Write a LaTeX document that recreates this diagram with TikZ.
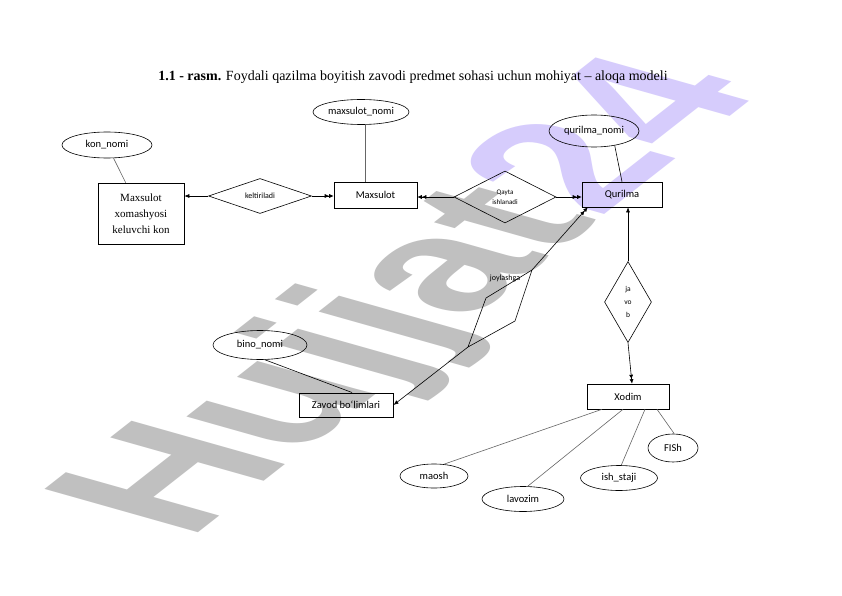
\documentclass[tikz,border=0pt]{standalone}
\usepackage{fontspec}
\setmainfont{Liberation Serif}
\newfontfamily\carl{Carlito}
\newfontfamily\wmfont{Liberation Sans}
\usetikzlibrary{shapes.geometric,arrows.meta}
\definecolor{wmgray}{RGB}{192,192,192}
\definecolor{wmlav}{RGB}{214,204,252}
\tikzset{
  ent/.style={draw, line width=0.6pt, inner sep=0pt, font=\carl\fontsize{10.5}{12}\selectfont},
  attr/.style={draw, ellipse, line width=0.6pt, inner sep=0pt, font=\carl\fontsize{10.5}{12}\selectfont},
  rel/.style={draw, diamond, line width=0.6pt, inner sep=0pt, align=center},
  link/.style={draw=black!60, line width=0.6pt},
  conn/.style={draw=black, line width=0.6pt},
  sgl/.style={conn, -{Latex[length=5pt,width=4pt]}},
  dbl/.style={conn, -{Latex[length=4.5pt,width=4pt]Latex[length=4.5pt,width=4pt]}}
}
\begin{document}
\begin{tikzpicture}[x=1pt,y=-1pt]
\useasboundingbox (0,0) rectangle (842,596);
\fill[white] (0,0) rectangle (842,596);
% watermark
\begin{scope}[shift={(188,541)}]
\node[cm={1.48,1.16,-2.23,0.63,(0,0)}, transform shape, anchor=base west, inner sep=0pt,
  font=\wmfont\bfseries\fontsize{100}{100}\selectfont] (wm) at (0,0)
  {\textcolor{wmgray}{Hujjat}\textcolor{wmlav}{24}};
\end{scope}
% title
\node[font=\fontsize{14}{16}\selectfont, inner sep=0pt] (title) at (413,77)
  {\textbf{1.1 - rasm.} Foydali qazilma boyitish zavodi predmet sohasi uchun mohiyat – aloqa modeli};
% entities
\node[ent, minimum width=86, minimum height=61, align=center, font=\fontsize{11}{16}\selectfont] (kon) at (141,213.5) {Maxsulot\\xomashyosi\\keluvchi kon};
\node[ent, minimum width=83, minimum height=26] (max) at (375.5,195) {Maxsulot};
\node[ent, minimum width=80, minimum height=25] (qur) at (622,194.5) {Qurilma};
\node[ent, minimum width=82, minimum height=25] (xod) at (628,396.5) {Xodim};
\node[ent, line width=1pt, minimum width=94, minimum height=24] (zav) at (346,405) {Zavod bo‘limlari};
% attributes
\node[attr, minimum width=90, minimum height=26] (konN) at (107,145) {kon\_nomi};
\node[attr, minimum width=96, minimum height=25] (maxN) at (361,112) {maxsulot\_nomi};
\node[attr, minimum width=90, minimum height=32] (qurN) at (594,131) {qurilma\_nomi};
\node[attr, minimum width=94, minimum height=29] (binoN) at (260,345) {bino\_nomi};
\node[attr, minimum width=68, minimum height=24] (maosh) at (434,476) {maosh};
\node[attr, minimum width=82, minimum height=25] (lav) at (523,499) {lavozim};
\node[attr, minimum width=77, minimum height=25] (ish) at (619,478) {ish\_staji};
\node[attr, minimum width=50, minimum height=28] (fish) at (673,448) {FISh};
% relationships
\node[rel, minimum width=103, minimum height=35, aspect=2.9, font=\carl\fontsize{8}{9}\selectfont] (kel) at (260,196) {keltiriladi};
\node[rel, minimum width=102, minimum height=52, aspect=2, font=\carl\fontsize{7}{10}\selectfont] (qay) at (505,197) {Qayta\\ishlanadi};
\node[rel, minimum width=47, minimum height=81, aspect=0.58, font=\carl\fontsize{7.5}{13}\selectfont] (jav) at (628,302) {ja\\vo\\b};
\coordinate (jA) at (532,270);
\coordinate (jB) at (486,298);
\coordinate (jC) at (468,347);
\coordinate (jD) at (515,321);
\draw[conn] (jA) -- (jB) -- (jC) -- (jD) -- cycle;
\node[font=\carl\fontsize{8}{9}\selectfont, inner sep=0pt] (joy) at (505,278) {joylashga};
% attribute links
\draw[link] (konN) -- (kon);
\draw[link] (maxN.-70) -- (maxN.-70 |- max.north);
\draw[conn] (qurN.-35) -- (qur.north);
\draw[conn] (binoN.-72) -- ([xshift=6pt]zav.north);
\draw[link] ([xshift=-26pt]xod.south) -- (maosh.50);
\draw[link] ([xshift=-5pt]xod.south) -- (lav.70);
\draw[link] ([xshift=17pt]xod.south) -- (ish.80);
\draw[link] ([xshift=29pt]xod.south) -- (fish.85);
% relationship connectors
\draw[sgl] (kel.west) -- (kel.west -| kon.east);
\draw[dbl] (kel.east) -- (kel.east -| max.west);
\draw[dbl] (qay.west) -- (qay.west -| max.east);
\draw[dbl] (qay.east) -- (qay.east -| qur.west);
\draw[sgl] (jav.north) -- (jav.north |- qur.south);
\draw[dbl] (jav.south) -- ([xshift=4pt]xod.north);
\draw[dbl] (jA) -- ([xshift=6pt]qur.south west);
\draw[sgl] (jC) -- (zav.east);
\end{tikzpicture}
\end{document}
